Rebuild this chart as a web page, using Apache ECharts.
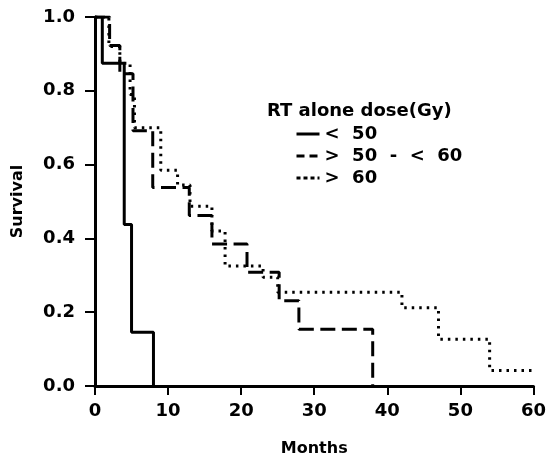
<!DOCTYPE html>
<html>
<head>
<meta charset="utf-8">
<script src="https://cdn.jsdelivr.net/npm/echarts@6/dist/echarts.min.js"></script>
<style>
  html, body { margin: 0; padding: 0; background: #fff; }
  #chart { width: 549px; height: 462px; }
</style>
</head>
<body>
<div id="chart"></div>
<script>
// Kaplan-Meier steps (months, survival)
const lowMonths = [0, 1, 4, 5, 8];
const lowSurv = [1.0, 0.875, 0.4375, 0.146, 0];

const midMonths = [0, 2, 3.4, 5.2, 7.9, 12.9, 16, 20.8, 25.2, 27.9, 38];
const midSurv = [1.0, 0.923, 0.846, 0.692, 0.538, 0.462, 0.385, 0.308, 0.231, 0.154, 0];

const highMonths = [0, 1.9, 3.4, 4.8, 5.4, 9, 11.3, 13, 16, 17.8, 23, 25, 42, 47, 54, 60];
const highSurv = [1.0, 0.92, 0.875, 0.79, 0.70, 0.585, 0.545, 0.487, 0.42, 0.325, 0.295, 0.254, 0.212, 0.127, 0.042, 0.042];

const seriesNames = ['<  50', '>  50  -  <  60', '>  60'];
const legendTitle = 'RT alone dose(Gy)';
const xTicks = [0, 10, 20, 30, 40, 50, 60];
const yTicks = [0, 0.2, 0.4, 0.6, 0.8, 1.0];

function pairs(xs, ys) {
  return xs.map((x, i) => [x, ys[i]]);
}

const font = 'DejaVu Sans, Verdana, sans-serif';
const chart = echarts.init(document.getElementById('chart'));

function kmSeries(name, xs, ys, dash, width) {
  return {
    name: name,
    type: 'line',
    step: 'end',
    data: pairs(xs, ys),
    symbol: 'none',
    showSymbol: false,
    animation: false,
    lineStyle: { color: '#000', width: width, type: dash, cap: 'butt' },
    itemStyle: { color: '#000' }
  };
}

chart.setOption({
  backgroundColor: '#fff',
  animation: false,
  title: {
    text: legendTitle,
    left: 262,
    top: 97,
    textStyle: { fontFamily: font, fontWeight: 'bold', fontSize: 18, lineHeight: 18, color: '#000' }
  },
  legend: {
    orient: 'vertical',
    left: 290,
    top: 120,
    itemWidth: 23,
    itemHeight: 14,
    itemGap: 4,
    data: [
      { name: seriesNames[0], lineStyle: { type: 'solid', width: 3 } },
      { name: seriesNames[1], lineStyle: { type: [8, 5], width: 3 } },
      { name: seriesNames[2], lineStyle: { type: [4, 3], width: 3 } }
    ],
    itemStyle: { opacity: 0 },
    textStyle: { fontFamily: font, fontWeight: 'bold', fontSize: 18, lineHeight: 18, color: '#000' }
  },
  grid: { left: 95, top: 17, width: 441, height: 370, containLabel: false },
  xAxis: {
    type: 'value',
    min: 0,
    max: 60,
    interval: 10,
    name: 'Months',
    nameLocation: 'middle',
    nameGap: 55,
    nameTextStyle: { fontFamily: font, fontWeight: 'bold', fontSize: 16, color: '#000' },
    axisLine: { lineStyle: { color: '#000', width: 3 } },
    axisTick: { inside: false, length: 9, lineStyle: { color: '#000', width: 2 } },
    axisLabel: {
      margin: 16,
      fontFamily: font, fontWeight: 'bold', fontSize: 18, color: '#000',
      formatter: v => xTicks.includes(v) ? String(v) : ''
    },
    splitLine: { show: false }
  },
  yAxis: {
    type: 'value',
    min: 0,
    max: 1,
    interval: 0.2,
    name: 'Survival',
    nameLocation: 'middle',
    nameGap: 69,
    nameRotate: 90,
    nameTextStyle: { fontFamily: font, fontWeight: 'bold', fontSize: 16, color: '#000' },
    axisLine: { show: true, lineStyle: { color: '#000', width: 3 } },
    axisTick: { show: true, inside: false, length: 10, lineStyle: { color: '#000', width: 2 } },
    axisLabel: {
      margin: 20,
      fontFamily: font, fontWeight: 'bold', fontSize: 18, color: '#000',
      formatter: v => yTicks.some(t => Math.abs(t - v) < 1e-6) ? v.toFixed(1) : ''
    },
    splitLine: { show: false }
  },
  series: [
    kmSeries(seriesNames[0], lowMonths, lowSurv, 'solid', 3),
    kmSeries(seriesNames[1], midMonths, midSurv, [15, 6.5], 3),
    kmSeries(seriesNames[2], highMonths, highSurv, [2.5, 5], 3)
  ]
});
</script>
</body>
</html>
